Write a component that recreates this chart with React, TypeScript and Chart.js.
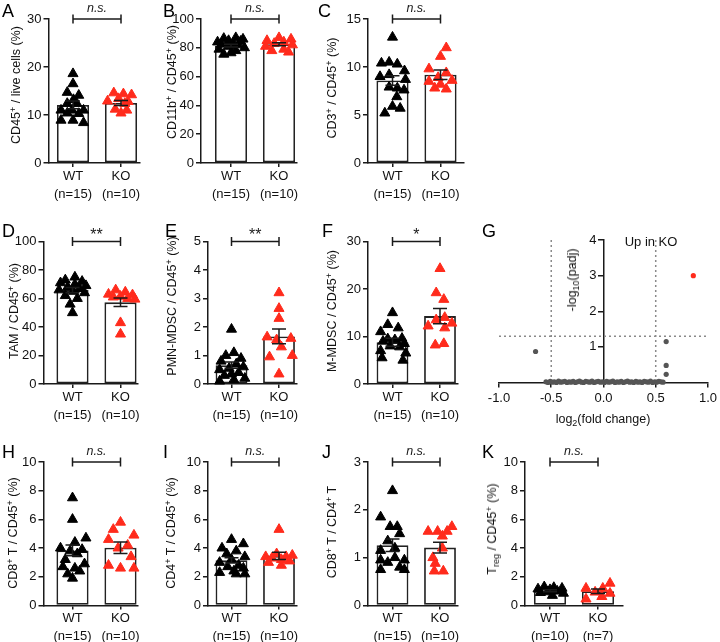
import React, { useEffect, useRef } from "react";
import { Chart, registerables } from "chart.js";
Chart.register(...registerables);

const FONT = '"Liberation Sans", Arial, Helvetica, sans-serif';
const RED = "#ff2b1c";
const INK = "#1a1a1a";

// ---------- data ----------
const GROUPS = ["WT", "KO"];
const N_MAIN = ["(n=15)", "(n=10)"];
const N_TREG = ["(n=10)", "(n=7)"];

const A_WT = [18.6, 16.5, 14.7, 14.1, 13.2, 12.4, 12.4, 11.0, 11.0, 11.0, 10.4, 10.3, 8.9, 8.9, 8.4];
const A_WT_X = [0, 0, -0.12, 0.12, 0.01, -0.12, 0.08, -0.25, -0.02, 0.22, -0.12, 0.12, -0.25, 0, 0.22];
const A_KO = [14.6, 14.4, 14.2, 13.4, 12.8, 12.9, 12.4, 11.2, 11.0, 10.4];
const A_KO_X = [-0.15, 0.05, 0.22, -0.05, 0.15, -0.28, 0.08, -0.12, 0.12, 0];
const A_MEAN = [12.1, 12.5];
const A_SEM = [0.8, 0.5];

const B_WT = [87, 86.5, 86, 85, 84.5, 84, 83, 82.5, 82, 81, 80, 79, 78, 76.5, 75.5];
const B_WT_X = [0.1, -0.15, 0.25, -0.05, 0.2, -0.28, 0.05, -0.2, 0.15, -0.05, 0.28, -0.25, 0.1, 0.0, -0.15];
const B_KO = [87, 86, 85, 84, 83, 82, 81, 79, 78, 77];
const B_KO_X = [0.0, 0.25, -0.25, 0.1, -0.1, 0.28, -0.28, 0.1, -0.15, 0.2];
const B_MEAN = [81.5, 82.5];
const B_SEM = [0.9, 1.0];

const C_WT = [13.1, 10.4, 10.5, 10.3, 9.6, 9.2, 9.0, 8.7, 7.9, 7.8, 7.6, 6.9, 5.9, 5.7, 5.2];
const C_WT_X = [0, -0.23, -0.07, 0.1, 0.25, -0.07, -0.26, 0.27, -0.07, 0.1, 0.24, 0.09, 0, 0.16, -0.16];
const C_KO = [12.0, 11.1, 9.8, 9.4, 8.9, 8.6, 8.5, 8.2, 7.8, 7.7];
const C_KO_X = [0.12, 0, -0.24, 0.12, -0.05, 0.24, -0.24, 0.0, -0.12, 0.12];
const C_MEAN = [8.6, 9.2];
const C_SEM = [0.5, 0.5];

const D_WT = [75, 73, 72, 71, 70, 69, 68, 67, 66, 65, 64, 62, 60, 56, 50];
const D_WT_X = [0.05, -0.15, 0.2, -0.25, 0.05, 0.28, -0.1, 0.15, -0.28, 0.02, 0.25, -0.15, 0.1, -0.05, 0.0];
const D_KO = [66, 64.5, 63, 62.5, 61.5, 61, 60, 59.5, 43, 35];
const D_KO_X = [-0.1, 0.1, -0.25, 0.25, 0.0, -0.15, 0.15, 0.3, 0.0, 0.0];
const D_MEAN = [65.9, 57.3];
const D_SEM = [1.8, 3.0];

const E_WT = [1.92, 1.1, 1.0, 0.9, 0.8, 0.7, 0.6, 0.55, 0.5, 0.4, 0.35, 0.3, 0.2, 0.15, 0.1];
const E_WT_X = [0, 0.05, -0.12, 0.2, -0.22, 0.1, 0.25, -0.05, -0.25, 0.15, 0.0, -0.15, 0.28, 0.05, -0.25];
const E_KO = [3.2, 2.65, 2.3, 1.65, 1.6, 1.55, 1.3, 1.0, 0.95, 0.35];
const E_KO_X = [0, 0, 0, -0.25, 0.25, -0.05, 0.05, 0.28, -0.2, 0];
const E_MEAN = [0.66, 1.67];
const E_SEM = [0.11, 0.26];

const F_WT = [15, 12.5, 11.8, 11.0, 9.6, 9.5, 9.3, 9, 8.5, 8, 7.8, 7, 6.5, 5.5, 5];
const F_WT_X = [0, -0.1, 0.12, -0.25, 0.2, -0.1, 0.05, -0.2, 0.25, -0.05, 0.15, -0.25, 0.28, -0.22, 0.22];
const F_KO = [24.3, 19.2, 17.8, 14, 13.5, 12.8, 12.2, 11.8, 8.5, 8.2];
const F_KO_X = [0, -0.08, 0.08, 0.1, -0.08, 0.25, -0.25, 0.1, 0.08, -0.1];
const F_MEAN = [8.8, 14.3];
const F_SEM = [0.85, 1.6];

const H_WT = [7.5, 6.0, 4.7, 4.4, 4.0, 3.9, 3.8, 3.6, 3.2, 2.9, 2.7, 2.6, 2.4, 2.2, 1.9];
const H_WT_X = [0, 0, 0.28, 0.05, -0.25, 0.2, -0.05, 0.1, -0.15, 0.25, -0.2, 0.05, 0.15, -0.1, 0.0];
const H_KO = [5.8, 5.3, 4.9, 4.6, 4.2, 4.0, 3.4, 2.8, 2.6, 2.6];
const H_KO_X = [0, -0.15, 0.28, -0.25, 0.15, -0.05, 0.22, -0.25, 0.28, 0.0];
const H_MEAN = [3.84, 4.02];
const H_SEM = [0.38, 0.4];

const I_WT = [4.6, 4.3, 4.0, 3.8, 3.6, 3.4, 3.2, 3.0, 2.8, 2.7, 2.6, 2.4, 2.3, 2.2, 2.2];
const I_WT_X = [0, 0.25, -0.2, 0.1, -0.1, 0.28, 0, -0.25, 0.15, -0.08, 0.25, 0.05, -0.25, 0.1, 0.28];
const I_KO = [5.3, 3.6, 3.5, 3.4, 3.4, 3.3, 3.2, 3.1, 3.0, 2.8];
const I_KO_X = [0, -0.05, 0.28, -0.28, 0.15, -0.15, 0.05, 0.22, -0.22, 0.05];
const I_MEAN = [3.15, 3.46];
const I_SEM = [0.18, 0.25];

const J_WT = [2.4, 1.85, 1.65, 1.65, 1.5, 1.35, 1.2, 1.15, 1.0, 0.95, 0.95, 0.9, 0.8, 0.75, 0.75];
const J_WT_X = [0, -0.25, -0.05, 0.1, 0.15, -0.1, 0.05, -0.25, 0.05, -0.25, 0.25, -0.1, 0.15, -0.25, 0.25];
const J_KO = [1.65, 1.55, 1.55, 1.55, 1.45, 1.2, 1.0, 0.88, 0.72, 0.72];
const J_KO_X = [0.25, -0.25, -0.05, 0.15, 0.05, 0.05, -0.15, -0.1, 0.07, -0.12];
const J_MEAN = [1.26, 1.21];
const J_SEM = [0.13, 0.11];

const K_WT = [1.3, 1.25, 1.2, 1.15, 1.1, 1.0, 0.95, 0.9, 0.85, 0.7];
const K_WT_X = [-0.12, 0.08, 0.25, -0.25, 0.0, 0.15, -0.05, -0.2, 0.28, 0.05];
const K_KO = [1.55, 1.2, 1.2, 0.93, 0.85, 0.62, 0.45];
const K_KO_X = [0.25, -0.25, 0.1, -0.06, 0.25, 0.08, -0.25];
const K_MEAN = [1.02, 0.99];
const K_SEM = [0.07, 0.16];

// volcano (G)
const VOLC_UP_X = [0.86];
const VOLC_UP_Y = [3.0];
const VOLC_X = [-0.65, 0.6, 0.6, 0.6,
  -0.55, -0.53, -0.51, -0.49, -0.47, -0.45, -0.43, -0.41, -0.39, -0.37, -0.35, -0.33, -0.31, -0.29,
  -0.27, -0.25, -0.23, -0.21, -0.19, -0.17, -0.15, -0.13, -0.11, -0.09, -0.07, -0.05, -0.03, -0.01,
  0.01, 0.03, 0.05, 0.07, 0.09, 0.11, 0.13, 0.15, 0.17, 0.19, 0.21, 0.23, 0.25, 0.27, 0.29, 0.31,
  0.33, 0.35, 0.37, 0.39, 0.41, 0.43, 0.45, 0.47, 0.49, 0.51, 0.53, 0.55, 0.57];
const VOLC_Y = [0.87, 1.15, 0.48, 0.23,
  0.02, 0.0, 0.03, 0.01, 0.02, 0.0, 0.04, 0.01, 0.02, 0.03, 0.0, 0.02, 0.01, 0.03,
  0.0, 0.02, 0.04, 0.01, 0.0, 0.03, 0.02, 0.01, 0.04, 0.0, 0.02, 0.03, 0.01, 0.02,
  0.0, 0.03, 0.01, 0.02, 0.04, 0.0, 0.02, 0.01, 0.03, 0.0, 0.02, 0.04, 0.01, 0.02, 0.0, 0.03,
  0.01, 0.02, 0.0, 0.03, 0.02, 0.01, 0.04, 0.0, 0.02, 0.01, 0.03, 0.02, 0.01];
const VOLC_X_TICKS = [-1, -0.5, 0, 0.5, 1];
const VOLC_Y_TICKS = [1, 2, 3, 4];

// ---------- layout ----------
const ROWS = [
  { topY: 19, zeroY: 163 },
  { topY: 241.5, zeroY: 384 },
  { topY: 462, zeroY: 605.5 },
];

type Panel = {
  key: string; wt: number[]; wtX: number[]; ko: number[]; koX: number[];
  mean: number[]; sem: number[]; yMax: number; yStep: number; n: string[]; sig: string;
  row: number; axisX: number; c1: number; c2: number; endX: number;
};

const PANELS: Panel[] = [
  { key: "A", wt: A_WT, wtX: A_WT_X, ko: A_KO, koX: A_KO_X, mean: A_MEAN, sem: A_SEM, yMax: 30, yStep: 10, n: N_MAIN, sig: "n.s.", row: 0, axisX: 48.5, c1: 73, c2: 121, endX: 140 },
  { key: "B", wt: B_WT, wtX: B_WT_X, ko: B_KO, koX: B_KO_X, mean: B_MEAN, sem: B_SEM, yMax: 100, yStep: 20, n: N_MAIN, sig: "n.s.", row: 0, axisX: 201, c1: 231, c2: 279, endX: 297 },
  { key: "C", wt: C_WT, wtX: C_WT_X, ko: C_KO, koX: C_KO_X, mean: C_MEAN, sem: C_SEM, yMax: 15, yStep: 5, n: N_MAIN, sig: "n.s.", row: 0, axisX: 368, c1: 392.5, c2: 440.5, endX: 464 },
  { key: "D", wt: D_WT, wtX: D_WT_X, ko: D_KO, koX: D_KO_X, mean: D_MEAN, sem: D_SEM, yMax: 100, yStep: 20, n: N_MAIN, sig: "**", row: 1, axisX: 43.5, c1: 72.5, c2: 120.5, endX: 138 },
  { key: "E", wt: E_WT, wtX: E_WT_X, ko: E_KO, koX: E_KO_X, mean: E_MEAN, sem: E_SEM, yMax: 5, yStep: 1, n: N_MAIN, sig: "**", row: 1, axisX: 208, c1: 231.5, c2: 279, endX: 297 },
  { key: "F", wt: F_WT, wtX: F_WT_X, ko: F_KO, koX: F_KO_X, mean: F_MEAN, sem: F_SEM, yMax: 30, yStep: 10, n: N_MAIN, sig: "*", row: 1, axisX: 368, c1: 392.5, c2: 440, endX: 458 },
  { key: "H", wt: H_WT, wtX: H_WT_X, ko: H_KO, koX: H_KO_X, mean: H_MEAN, sem: H_SEM, yMax: 10, yStep: 2, n: N_MAIN, sig: "n.s.", row: 2, axisX: 43.5, c1: 72.5, c2: 120.5, endX: 138 },
  { key: "I", wt: I_WT, wtX: I_WT_X, ko: I_KO, koX: I_KO_X, mean: I_MEAN, sem: I_SEM, yMax: 10, yStep: 2, n: N_MAIN, sig: "n.s.", row: 2, axisX: 208, c1: 231.5, c2: 279, endX: 297 },
  { key: "J", wt: J_WT, wtX: J_WT_X, ko: J_KO, koX: J_KO_X, mean: J_MEAN, sem: J_SEM, yMax: 3, yStep: 1, n: N_MAIN, sig: "n.s.", row: 2, axisX: 368, c1: 392.5, c2: 440, endX: 458 },
  { key: "K", wt: K_WT, wtX: K_WT_X, ko: K_KO, koX: K_KO_X, mean: K_MEAN, sem: K_SEM, yMax: 10, yStep: 2, n: N_TREG, sig: "n.s.", row: 2, axisX: 525, c1: 550, c2: 598, endX: 623 },
];

const SUP: React.CSSProperties = { fontSize: "0.72em", verticalAlign: "0.5em", lineHeight: 0 };
const SUB: React.CSSProperties = { fontSize: "0.72em", verticalAlign: "-0.3em", lineHeight: 0 };

const LETTERS = [
  { t: "A", x: 2, y: 2 }, { t: "B", x: 163, y: 2 }, { t: "C", x: 318, y: 2 },
  { t: "D", x: 2, y: 222 }, { t: "E", x: 165, y: 222 }, { t: "F", x: 322, y: 222 }, { t: "G", x: 482, y: 222 },
  { t: "H", x: 2, y: 443 }, { t: "I", x: 163, y: 443 }, { t: "J", x: 322, y: 443 }, { t: "K", x: 482, y: 443 },
];

const TITLES: { x: number; y: number; rot: boolean; node: React.ReactNode }[] = [
  { x: 16, y: 85, rot: true, node: <>CD45<span style={SUP}>+</span> / live cells (%)</> },
  { x: 172, y: 82, rot: true, node: <>CD11b<span style={SUP}>+</span> / CD45<span style={SUP}>+</span> (%)</> },
  { x: 332, y: 88, rot: true, node: <>CD3<span style={SUP}>+</span> / CD45<span style={SUP}>+</span> (%)</> },
  { x: 14, y: 311, rot: true, node: <>TAM / CD45<span style={SUP}>+</span> (%)</> },
  { x: 172, y: 306, rot: true, node: <>PMN-MDSC / CD45<span style={SUP}>+</span> (%)</> },
  { x: 332, y: 311, rot: true, node: <>M-MDSC / CD45<span style={SUP}>+</span> (%)</> },
  { x: 572, y: 280, rot: true, node: <>-log<span style={SUB}>10</span>(padj)</> },
  { x: 603, y: 419, rot: false, node: <>log<span style={SUB}>2</span>(fold change)</> },
  { x: 13, y: 533, rot: true, node: <>CD8<span style={SUP}>+</span> T / CD45<span style={SUP}>+</span> (%)</> },
  { x: 171, y: 533, rot: true, node: <>CD4<span style={SUP}>+</span> T / CD45<span style={SUP}>+</span> (%)</> },
  { x: 332, y: 532, rot: true, node: <>CD8<span style={SUP}>+</span> T / CD4<span style={SUP}>+</span> T</> },
  { x: 492, y: 529, rot: true, node: <>T<span style={SUB}>reg</span> / CD45<span style={SUP}>+</span> (%)</> },
];

// ---------- plugins ----------
const errPlugin = {
  id: "errbars",
  afterDatasetsDraw(chart: any, _a: any, o: any) {
    const { ctx, scales } = chart;
    ctx.save();
    ctx.strokeStyle = INK;
    ctx.lineWidth = 1.5;
    for (let i = 0; i < 2; i++) {
      const x = scales.x.getPixelForValue(i + 1);
      const yt = scales.y.getPixelForValue(o.mean[i] + o.sem[i]);
      const yb = scales.y.getPixelForValue(o.mean[i] - o.sem[i]);
      ctx.beginPath();
      ctx.moveTo(x, yt); ctx.lineTo(x, yb);
      ctx.moveTo(x - 7, yt); ctx.lineTo(x + 7, yt);
      ctx.moveTo(x - 7, yb); ctx.lineTo(x + 7, yb);
      ctx.stroke();
    }
    ctx.restore();
  },
};

const sigPlugin = {
  id: "sig",
  afterDraw(chart: any, _a: any, o: any) {
    const { ctx, scales } = chart;
    const x1 = scales.x.getPixelForValue(1);
    const x2 = scales.x.getPixelForValue(2);
    const y = scales.y.getPixelForValue(scales.y.max);
    ctx.save();
    ctx.strokeStyle = INK;
    ctx.lineWidth = 1.5;
    ctx.beginPath();
    ctx.moveTo(x1, y); ctx.lineTo(x2, y);
    ctx.moveTo(x1, y - 4.5); ctx.lineTo(x1, y + 4.5);
    ctx.moveTo(x2, y - 4.5); ctx.lineTo(x2, y + 4.5);
    ctx.stroke();
    ctx.fillStyle = INK;
    ctx.textAlign = "center";
    ctx.textBaseline = "alphabetic";
    const stars = o.text.startsWith("*");
    ctx.font = stars ? `16px ${FONT}` : `italic 12.5px ${FONT}`;
    ctx.fillText(o.text, (x1 + x2) / 2, stars ? y - 2 : y - 7);
    ctx.restore();
  },
};

function BarPanel({ p }: { p: Panel }) {
  const ref = useRef<HTMLCanvasElement>(null);
  const row = ROWS[p.row];
  const left = Math.floor(p.axisX) - 40;
  const top = Math.floor(row.topY) - 30;
  const padTop = row.topY - top;
  const width = Math.ceil(p.endX) + 10 - left;
  const height = Math.ceil(row.zeroY + 42 - top);
  const xH = top + height - row.zeroY;

  useEffect(() => {
    const sp = p.c2 - p.c1;
    const xMin = 1 - (p.c1 - p.axisX) / sp;
    const xMax = 2 + (p.endX - p.c2) / sp;
    const chart = new Chart(ref.current as HTMLCanvasElement, {
      type: "bar",
      data: {
        datasets: [
          {
            type: "bar",
            data: [{ x: 1, y: p.mean[0] }, { x: 2, y: p.mean[1] }],
            backgroundColor: "#ffffff",
            borderColor: "#222222",
            borderWidth: 1.8,
            borderSkipped: false,
            barPercentage: 0.67,
            categoryPercentage: 1,
            order: 3,
          } as any,
          {
            type: "scatter",
            data: p.wt.map((y, i) => ({ x: 1 + p.wtX[i], y })),
            pointStyle: "triangle",
            pointRadius: 5.8,
            pointBackgroundColor: "#000",
            pointBorderColor: "#000",
            pointBorderWidth: 1,
            clip: false,
            order: 1,
          } as any,
          {
            type: "scatter",
            data: p.ko.map((y, i) => ({ x: 2 + p.koX[i], y })),
            pointStyle: "triangle",
            pointRadius: 5.8,
            pointBackgroundColor: RED,
            pointBorderColor: RED,
            pointBorderWidth: 1,
            clip: false,
            order: 2,
          } as any,
        ],
      },
      options: {
        animation: false,
        responsive: false,
        maintainAspectRatio: false,
        layout: { padding: { top: padTop, right: width - (p.endX - left), left: 0, bottom: 0 } },
        plugins: {
          legend: { display: false },
          tooltip: { enabled: false },
          errbars: { mean: p.mean, sem: p.sem },
          sig: { text: p.sig },
        } as any,
        scales: {
          x: {
            type: "linear",
            min: xMin,
            max: xMax,
            offset: false,
            bounds: "data",
            afterBuildTicks: (s: any) => { s.ticks = [{ value: 1 }, { value: 2 }]; },
            afterFit: (s: any) => { s.height = xH; },
            grid: { display: true, drawOnChartArea: false, drawTicks: true, tickLength: 4, color: INK, lineWidth: 1.5, offset: false },
            border: { display: true, color: INK, width: 1.5 },
            ticks: {
              autoSkip: false,
              maxRotation: 0,
              padding: 0,
              color: "#111",
              font: { family: FONT, size: 13, lineHeight: 1.4 },
              callback: (v: any) => (v === 1 ? [GROUPS[0], p.n[0]] : [GROUPS[1], p.n[1]]),
            },
          },
          y: {
            min: 0,
            max: p.yMax,
            afterFit: (s: any) => { s.width = p.axisX - left; },
            grid: { drawOnChartArea: false, drawTicks: true, tickLength: 5, color: INK, lineWidth: 1.5 },
            border: { display: true, color: INK, width: 1.5 },
            ticks: { stepSize: p.yStep, padding: 2, color: "#111", font: { family: FONT, size: 13 } },
          },
        },
      } as any,
      plugins: [errPlugin, sigPlugin],
    });
    return () => chart.destroy();
  }, []);

  return (
    <canvas
      ref={ref}
      width={width}
      height={height}
      style={{ position: "absolute", left, top, width, height }}
    />
  );
}

const volcPlugin = {
  id: "volc",
  beforeDatasetsDraw(chart: any) {
    const { ctx, scales } = chart;
    const xs = scales.x, ys = scales.y;
    ctx.save();
    ctx.strokeStyle = "#8a8a8a";
    ctx.lineWidth = 1.5;
    ctx.setLineDash([2, 3]);
    ctx.beginPath();
    [-0.5, 0.5].forEach((v) => {
      const x = xs.getPixelForValue(v);
      ctx.moveTo(x, ys.getPixelForValue(4));
      ctx.lineTo(x, ys.getPixelForValue(0));
    });
    const yt = ys.getPixelForValue(1.3);
    ctx.moveTo(xs.getPixelForValue(-1), yt);
    ctx.lineTo(xs.getPixelForValue(1), yt);
    ctx.stroke();
    ctx.restore();
  },
  afterDraw(chart: any) {
    const { ctx, scales } = chart;
    const xs = scales.x, ys = scales.y;
    const x0 = xs.getPixelForValue(0);
    ctx.save();
    ctx.fillStyle = "#111";
    ctx.font = `13px ${FONT}`;
    ctx.textAlign = "right";
    ctx.textBaseline = "middle";
    ys.ticks.forEach((t: any) => {
      if (t.value > 0) ctx.fillText(String(t.value), x0 - 7, ys.getPixelForValue(t.value));
    });
    ctx.textAlign = "center";
    ctx.fillText("Up in KO", xs.getPixelForValue(0.455), ys.getPixelForValue(4) + 2);
    ctx.restore();
  },
};

function Volcano() {
  const ref = useRef<HTMLCanvasElement>(null);
  const left = 470, top = 215, width = 250, height = 205;
  useEffect(() => {
    const chart = new Chart(ref.current as HTMLCanvasElement, {
      type: "scatter",
      data: {
        datasets: [
          {
            data: VOLC_X.map((x, i) => ({ x, y: VOLC_Y[i] })),
            pointRadius: 2.6,
            pointBackgroundColor: "#555",
            pointBorderColor: "#555",
            pointBorderWidth: 0,
            clip: false,
          },
          {
            data: VOLC_UP_X.map((x, i) => ({ x, y: VOLC_UP_Y[i] })),
            pointRadius: 2.6,
            pointBackgroundColor: RED,
            pointBorderColor: RED,
            pointBorderWidth: 0,
            clip: false,
          },
        ],
      },
      options: {
        animation: false,
        responsive: false,
        maintainAspectRatio: false,
        layout: { padding: { top: 25, left: 29, right: 11, bottom: 0 } },
        plugins: { legend: { display: false }, tooltip: { enabled: false } },
        scales: {
          x: {
            type: "linear",
            min: -1,
            max: 1,
            afterBuildTicks: (s: any) => { s.ticks = VOLC_X_TICKS.map((v) => ({ value: v })); },
            afterFit: (s: any) => { s.height = 37.5; },
            grid: { drawOnChartArea: false, drawTicks: true, tickLength: 5, color: INK, lineWidth: 1.5 },
            border: { display: true, color: INK, width: 1.5 },
            ticks: { padding: 3, color: "#111", font: { family: FONT, size: 13 }, callback: (v: any) => Number(v).toFixed(1) },
          },
          y: {
            type: "linear",
            min: 0,
            max: 4,
            position: { x: 0 },
            afterBuildTicks: (s: any) => { s.ticks = [0, ...VOLC_Y_TICKS].map((v) => ({ value: v })); },
            grid: { drawOnChartArea: false, drawTicks: true, tickLength: 5, color: INK, lineWidth: 1.5 },
            border: { display: true, color: INK, width: 1.5 },
            ticks: { display: false },
          },
        },
      } as any,
      plugins: [volcPlugin],
    });
    return () => chart.destroy();
  }, []);
  return (
    <canvas ref={ref} width={width} height={height} style={{ position: "absolute", left, top, width, height }} />
  );
}

export default function App() {
  return (
    <div style={{ position: "fixed", left: 0, top: 0, width: 720, height: 642, background: "#fff", overflow: "hidden" }}>
      {PANELS.map((p) => <BarPanel key={p.key} p={p} />)}
      <Volcano />
      {LETTERS.map((l) => (
        <div key={l.t} style={{ position: "absolute", left: l.x, top: l.y, font: `18px ${FONT}`, lineHeight: "18px", color: "#000" }}>{l.t}</div>
      ))}
      {TITLES.map((t, i) => (
        <div
          key={i}
          style={{
            position: "absolute",
            left: t.x,
            top: t.y,
            transform: t.rot ? "translate(-50%,-50%) rotate(-90deg)" : "translate(-50%,-50%)",
            whiteSpace: "nowrap",
            font: `12.5px ${FONT}`,
            lineHeight: "14px",
            color: "#111",
          }}
        >
          {t.node}
        </div>
      ))}
    </div>
  );
}
